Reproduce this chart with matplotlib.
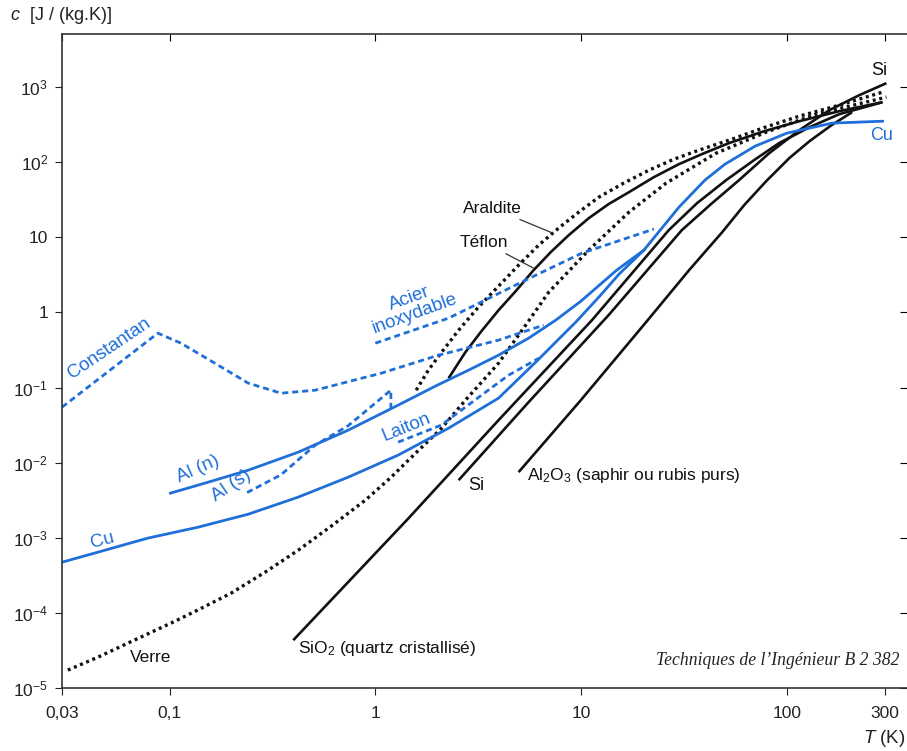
"""Specific heat c(T) of cryogenic materials, log-log chart."""
import matplotlib
matplotlib.use("Agg")
import matplotlib.pyplot as plt
from matplotlib.ticker import NullLocator

plt.rcParams["font.family"] = ["Liberation Sans", "DejaVu Sans"]
plt.rcParams["mathtext.fontset"] = "custom"
plt.rcParams["mathtext.rm"] = "Liberation Sans"
plt.rcParams["mathtext.it"] = "Liberation Sans:italic"

BLUE = "#1f6fd8"
BLACK = "#111111"

# --- data: T in K, c in J/(kg.K) ---
cu_T = [0.03, 0.0448, 0.0784, 0.137, 0.241, 0.422, 0.738, 1.29, 2.27, 3.97,
        6.02, 7.96, 9.42, 12.2, 15.3, 20.2, 29.9, 40.0, 50.1, 70.2, 100, 166, 292]
cu_c = [4.73e-4, 6.43e-4, 9.9e-4, 1.38e-3, 2.06e-3, 3.48e-3, 6.41e-3, 0.0126,
        0.0288, 0.0723, 0.218, 0.469, 0.743, 1.60, 3.24, 6.76, 25.2, 57.8,
        94.4, 164, 244, 332, 352]

al_n_T = [0.101, 0.154, 0.241, 0.422, 0.738, 1.29, 2.00, 2.84, 3.97, 5.56,
          7.53, 9.97, 14.9, 20.2]
al_n_c = [0.00393, 0.0055, 0.00794, 0.0138, 0.0271, 0.0583, 0.1076, 0.1706,
          0.270, 0.455, 0.79, 1.41, 3.66, 6.76]

al_s_T = [0.238, 0.348, 0.510, 0.738, 1.19, 1.19]
al_s_c = [0.0040, 0.0069, 0.0171, 0.0311, 0.0923, 0.046]

constantan_T = [0.030, 0.0877, 0.1135, 0.166, 0.241, 0.348, 0.510, 1.07, 2.03, 3.97, 6.58]
constantan_c = [0.0548, 0.53, 0.39, 0.211, 0.1146, 0.0841, 0.0923, 0.1556, 0.27, 0.428, 0.678]

acier_T = [1.0, 2.27, 5.75, 10.1, 22.6]
acier_c = [0.39, 0.84, 2.95, 6.17, 12.9]

laiton_T = [1.29, 2.09, 3.28, 4.44, 6.23]
laiton_c = [0.01875, 0.0316, 0.0792, 0.146, 0.246]

verre_T = [0.032, 0.0448, 0.0626, 0.1015, 0.137, 0.199, 0.291, 0.422, 0.611,
           0.894, 1.18, 1.57, 2.10, 2.74, 3.97, 5.38, 6.96, 10.9, 17.1, 25.9,
           45.3, 79.4, 139, 305]
verre_c = [1.73e-5, 2.57e-5, 3.95e-5, 7.3e-5, 1.09e-4, 1.83e-4, 3.48e-4,
           6.84e-4, 1.43e-3, 3.17e-3, 6.22e-3, 0.0134, 0.0288, 0.0679, 0.211,
           0.678, 1.86, 6.76, 21.7, 52.7, 132, 252, 437, 736]

araldite_T = [1.58, 1.81, 2.10, 2.54, 3.17, 3.97, 4.97, 6.22, 7.78, 9.75, 12.2,
              16.1, 21.4, 28.3, 37.4, 54.2, 78.5, 115, 180, 292]
araldite_c = [0.0923, 0.1706, 0.296, 0.58, 1.18, 2.24, 4.27, 7.87, 13.3, 21.7,
              34.3, 52.7, 78.5, 110, 145, 203, 293, 411, 576, 858]

teflon_T = [2.27, 2.74, 3.28, 3.97, 4.81, 5.88, 7.12, 8.71, 10.9, 13.6, 17.1,
            22.6, 29.9, 39.6, 52.4, 77.6, 115, 180, 292]
teflon_c = [0.133, 0.296, 0.564, 1.07, 1.92, 3.66, 6.35, 10.7, 18.0, 27.7,
            40.0, 63.4, 94.4, 132, 180, 259, 352, 479, 631]

si_T = [2.54, 5.56, 13.6, 30.9, 42.8, 58.6, 82.1, 115, 161, 225, 305]
si_c = [0.00585, 0.064, 0.92, 12.5, 27.7, 57.8, 132, 267, 494, 782, 1130]

sio2_T = [0.399, 1.45, 3.97, 11.3, 26.7, 36.6, 50.7, 69.4, 91.8, 129, 180, 292]
sio2_c = [4.33e-5, 1.82e-3, 0.0368, 0.79, 12.5, 28.5, 57.8, 107, 180, 293, 437, 631]

al2o3_T = [4.97, 9.97, 20.7, 33.5, 48.5, 62.1, 79.4, 103, 129, 165, 208]
al2o3_c = [0.00748, 0.0679, 0.743, 3.66, 11.7, 26.9, 56.0, 114, 191, 312, 465]

xticks = [0.03, 0.1, 1, 10, 100, 300]
xlabels = ["0,03", "0,1", "1", "10", "100", "300"]
yticks = [1e-5, 1e-4, 1e-3, 1e-2, 1e-1, 1, 10, 1e2, 1e3]
ylabels = ["10$^{-5}$", "10$^{-4}$", "10$^{-3}$", "10$^{-2}$", "10$^{-1}$",
           "1", "10", "10$^{2}$", "10$^{3}$"]

fig = plt.figure(figsize=(9.07, 7.51), dpi=100)
ax = fig.add_axes([0.0684, 0.0839, 0.9316, 0.8708])
ax.set_xscale("log")
ax.set_yscale("log")
ax.set_xlim(0.03, 384)
ax.set_ylim(1e-5, 5.1e3)

dot = (0, (0.9, 1.1))
dash = (0, (2.2, 1.4))
solid_kw = dict(color=BLACK, lw=1.9, solid_capstyle="butt", solid_joinstyle="round")
dot_kw = dict(color=BLACK, lw=2.4, ls=dot, dash_capstyle="butt")
bsolid_kw = dict(color=BLUE, lw=2.0, solid_joinstyle="round")
bdash_kw = dict(color=BLUE, lw=2.0, ls=dash, dash_capstyle="butt")

ax.plot(verre_T, verre_c, **dot_kw)
ax.plot(araldite_T, araldite_c, **dot_kw)
ax.plot(teflon_T, teflon_c, **solid_kw)
ax.plot(si_T, si_c, **solid_kw)
ax.plot(sio2_T, sio2_c, **solid_kw)
ax.plot(al2o3_T, al2o3_c, **solid_kw)
ax.plot(constantan_T, constantan_c, **bdash_kw)
ax.plot(acier_T, acier_c, **bdash_kw)
ax.plot(laiton_T, laiton_c, **bdash_kw)
ax.plot(al_s_T, al_s_c, **bdash_kw)
ax.plot(al_n_T, al_n_c, **bsolid_kw)
ax.plot(cu_T, cu_c, **bsolid_kw)

# axes frame and ticks
ax.spines["right"].set_visible(False)
for s in ("left", "bottom", "top"):
    ax.spines[s].set_linewidth(1.2)
    ax.spines[s].set_color("#333333")
ax.set_xticks(xticks)
ax.set_xticklabels(xlabels)
ax.set_yticks(yticks)
ax.set_yticklabels(ylabels)
ax.xaxis.set_minor_locator(NullLocator())
ax.yaxis.set_minor_locator(NullLocator())
ax.tick_params(direction="out", length=5, width=0.8, labelsize=12.5,
               colors="#222222", pad=5)
ax.tick_params(axis="x", pad=8)

top = ax.secondary_xaxis("top")
top.set_xticks(xticks)
top.xaxis.set_minor_locator(NullLocator())
top.tick_params(direction="in", length=5, width=0.8, labeltop=False)
top.spines["top"].set_visible(False)
right = ax.secondary_yaxis("right")
right.set_yticks(yticks)
right.yaxis.set_minor_locator(NullLocator())
right.tick_params(direction="in", length=5, width=0.8, labelright=False)
right.spines["right"].set_visible(False)

# curve labels
fb = 13.5
fk = 12.5
ax.text(0.051, 0.33, "Constantan", color=BLUE, fontsize=fb, rotation=34,
        ha="center", va="center")
ax.text(1.51, 1.21, "Acier\ninoxydable", color=BLUE, fontsize=fb, rotation=20,
        ha="center", va="center", linespacing=0.95, multialignment="center")
ax.text(0.137, 0.0082, "Al (n)", color=BLUE, fontsize=fb, rotation=24,
        ha="center", va="center")
ax.text(0.199, 0.0050, "Al (s)", color=BLUE, fontsize=fb, rotation=34,
        ha="center", va="center")
ax.text(0.047, 9.3e-4, "Cu", color=BLUE, fontsize=fb, rotation=15,
        ha="center", va="center")
ax.text(1.42, 0.0300, "Laiton", color=BLUE, fontsize=fb, rotation=22,
        ha="center", va="center")
ax.text(288, 229, "Cu", color=BLUE, fontsize=13, ha="center", va="center")
ax.text(282, 1683, "Si", color=BLACK, fontsize=13, ha="center", va="center")
ax.text(3.10, 0.0050, "Si", color=BLACK, fontsize=13, ha="center", va="center")
ax.text(5.44, 0.0068, "Al$_2$O$_3$ (saphir ou rubis purs)", color=BLACK,
        fontsize=fk, ha="left", va="center")
ax.text(0.422, 3.39e-5, "SiO$_2$ (quartz cristallisé)", color=BLACK,
        fontsize=fk, ha="left", va="center")
ax.text(0.0811, 2.57e-5, "Verre", color=BLACK, fontsize=fk, ha="center",
        va="center")
ax.annotate("Araldite", xy=(7.12, 11.7), xytext=(3.71, 24.5), fontsize=fk,
            ha="center", va="center", color=BLACK,
            arrowprops=dict(arrowstyle="-", color="#333333", lw=0.9,
                            shrinkA=2, shrinkB=0))
ax.annotate("Téflon", xy=(5.88, 3.89), xytext=(3.36, 8.63), fontsize=fk,
            ha="center", va="center", color=BLACK,
            arrowprops=dict(arrowstyle="-", color="#333333", lw=0.9,
                            shrinkA=2, shrinkB=0))

fig.text(0.011, 0.980, "$c$  [J / (kg.K)]", fontsize=13, ha="left",
         va="center", color="#222222")
fig.text(0.952, 0.017, "$T$ (K)", fontsize=13.5, ha="left", va="center",
         color="#222222")
fig.text(0.992, 0.121, "Techniques de l\u02bcIngénieur B 2 382",
         fontsize=12.7, ha="right", va="center", style="italic",
         family=["Liberation Serif", "DejaVu Serif"], color="#222222")

fig.savefig("out.png", dpi=100)
